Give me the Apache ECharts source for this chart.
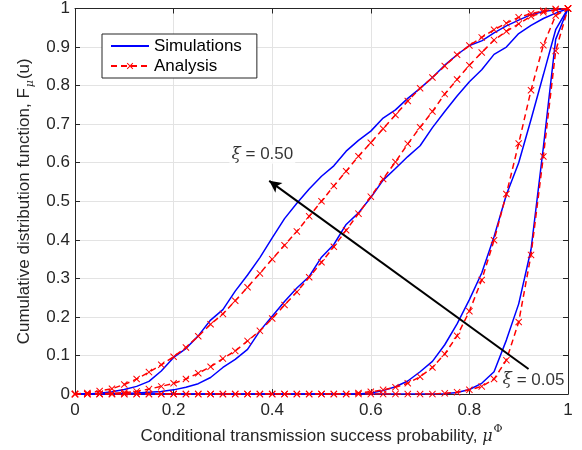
<!DOCTYPE html>
<html>
<head>
<meta charset="utf-8">
<script src="https://cdn.jsdelivr.net/npm/echarts@6/dist/echarts.min.js"></script>
<style>
html, body { margin: 0; padding: 0; background: #fff; }
#chart { width: 582px; height: 450px; }
</style>
</head>
<body>
<div id="chart"></div>
<script>
// x grid shared by every curve
var xs = [0, 0.025, 0.05, 0.075, 0.1, 0.125, 0.15, 0.175, 0.2, 0.225,
  0.25, 0.275, 0.3, 0.325, 0.35, 0.375, 0.4, 0.425, 0.45, 0.475,
  0.5, 0.525, 0.55, 0.575, 0.6, 0.625, 0.65, 0.675, 0.7, 0.725,
  0.75, 0.775, 0.8, 0.825, 0.85, 0.875, 0.9, 0.925, 0.95, 0.975, 1]

// xi = 0.50 family (left)
var simA = [0, 0, 0.002, 0.006, 0.012, 0.020, 0.033, 0.060, 0.095, 0.118,
  0.151, 0.192, 0.219, 0.267, 0.309, 0.354, 0.405, 0.455, 0.495, 0.532,
  0.565, 0.592, 0.630, 0.658, 0.682, 0.716, 0.737, 0.767, 0.793, 0.821,
  0.853, 0.880, 0.904, 0.916, 0.937, 0.955, 0.970, 0.984, 0.992, 0.997, 1]
var anaA = [0, 0.003, 0.008, 0.014, 0.025, 0.039, 0.057, 0.076, 0.097, 0.121,
  0.150, 0.181, 0.208, 0.242, 0.277, 0.313, 0.350, 0.386, 0.422, 0.461,
  0.500, 0.540, 0.578, 0.617, 0.652, 0.688, 0.724, 0.760, 0.793, 0.821,
  0.851, 0.880, 0.904, 0.925, 0.945, 0.962, 0.977, 0.987, 0.994, 0.999, 1]
var simB = [0, 0, 0, 0.001, 0.002, 0.003, 0.005, 0.007, 0.011, 0.018,
  0.027, 0.043, 0.069, 0.090, 0.116, 0.164, 0.202, 0.240, 0.275, 0.305,
  0.355, 0.388, 0.440, 0.470, 0.510, 0.555, 0.585, 0.616, 0.644, 0.691,
  0.733, 0.773, 0.810, 0.841, 0.881, 0.900, 0.935, 0.956, 0.974, 0.988, 1]
var anaB = [0, 0, 0.001, 0.002, 0.004, 0.007, 0.013, 0.020, 0.028, 0.039,
  0.054, 0.071, 0.092, 0.112, 0.138, 0.164, 0.196, 0.231, 0.265, 0.303,
  0.342, 0.382, 0.425, 0.468, 0.512, 0.558, 0.602, 0.649, 0.692, 0.733,
  0.778, 0.816, 0.853, 0.886, 0.918, 0.941, 0.960, 0.980, 0.990, 0.997, 1]

// xi = 0.05 family (right)
var simC = [0, 0, 0, 0, 0, 0, 0, 0, 0, 0,
  0, 0, 0, 0, 0, 0, 0, 0, 0, 0,
  0, 0, 0, 0, 0.003, 0.009, 0.019, 0.034, 0.058, 0.085,
  0.128, 0.182, 0.245, 0.314, 0.408, 0.517, 0.600, 0.712, 0.828, 0.945, 1]
var anaC = [0, 0, 0, 0, 0, 0, 0, 0, 0, 0,
  0, 0, 0, 0, 0, 0, 0, 0, 0, 0,
  0, 0, 0, 0.003, 0.006, 0.011, 0.018, 0.028, 0.045, 0.069,
  0.104, 0.151, 0.215, 0.296, 0.399, 0.519, 0.650, 0.788, 0.905, 0.982, 1]
var simD = [0, 0, 0, 0, 0, 0, 0, 0, 0, 0,
  0, 0, 0, 0, 0, 0, 0, 0, 0, 0,
  0, 0, 0, 0, 0, 0, 0, 0, 0, 0,
  0.001, 0.004, 0.012, 0.028, 0.058, 0.140, 0.234, 0.375, 0.640, 0.920, 1]
var anaD = [0, 0, 0, 0, 0, 0, 0, 0, 0, 0,
  0, 0, 0, 0, 0, 0, 0, 0, 0, 0,
  0, 0, 0, 0, 0, 0, 0, 0, 0, 0,
  0.002, 0.005, 0.011, 0.020, 0.039, 0.088, 0.187, 0.361, 0.616, 0.890, 1]

// arrow (tail, head) and the two labels, in data units
var arrowFrom = [0.92, 0.065]
var arrowTo = [0.394, 0.553]
var labelTop = [0.38, 0.622, '0.50']
var labelBottom = [0.93, 0.037, '0.05']

var xMark = 'path://M0,1L1,0L5,4L9,0L10,1L6,5L10,9L9,10L5,6L1,10L0,9L4,5Z'
var axisColor = '#262626'
var font = 'Liberation Sans, Arial, Helvetica, sans-serif'

function pairs (ys) {
  return xs.map(function (x, i) { return [x, ys[i]] })
}

function sim (ys) {
  return {
    name: 'Simulations',
    type: 'line',
    data: pairs(ys),
    symbol: 'none',
    lineStyle: { color: '#0000ff', width: 1.5 },
    // invisible item colour so the legend only shows the line
    itemStyle: { color: '#0000ff', opacity: 0 },
    animation: false,
    z: 2
  }
}

function ana (ys) {
  return {
    name: 'Analysis',
    type: 'line',
    data: pairs(ys),
    symbol: xMark,
    symbolSize: 7,
    showAllSymbol: true,
    lineStyle: { color: '#ff0000', width: 1.5, type: [6, 4] },
    itemStyle: { color: '#ff0000' },
    animation: false,
    z: 3
  }
}

function xiLabel (p) {
  return {
    type: 'scatter',
    data: [[p[0], p[1]]],
    symbolSize: 0,
    silent: true,
    animation: false,
    z: 10,
    label: {
      show: true,
      position: 'inside',
      formatter: '{g|ξ}{t| = ' + p[2] + '}',
      backgroundColor: '#fff',
      padding: [1, 2],
      rich: {
        g: { fontFamily: 'DejaVu Serif, serif', fontStyle: 'italic', fontSize: 17, color: '#000' },
        t: { fontFamily: font, fontSize: 17, color: '#000' }
      }
    }
  }
}

var chart = echarts.init(document.getElementById('chart'))

var baseAxis = {
  type: 'value',
  min: 0,
  max: 1,
  axisLine: { show: true, onZero: false, lineStyle: { color: axisColor, width: 1 } },
  axisTick: { show: true, inside: true, length: 5, lineStyle: { color: axisColor } },
  splitLine: { show: false }
}

var option = {
  backgroundColor: '#fff',
  animation: false,
  grid: { left: 75, right: 14, top: 8, bottom: 54 },
  legend: {
    data: ['Simulations', 'Analysis'],
    orient: 'vertical',
    left: 102,
    top: 34,
    itemWidth: 38,
    itemHeight: 8,
    itemGap: 2,
    padding: [3, 15, 3, 8],
    backgroundColor: '#fff',
    borderColor: axisColor,
    borderWidth: 1,
    borderRadius: 0,
    textStyle: { fontFamily: font, fontSize: 17, lineHeight: 18, color: '#000' }
  },
  xAxis: [
    Object.assign({}, baseAxis, {
      position: 'bottom',
      interval: 0.2,
      splitLine: { show: true, lineStyle: { color: '#e3e3e3', width: 1 } },
      axisLabel: { color: axisColor, fontFamily: font, fontSize: 17, margin: 8 },
      name: '{t|Conditional transmission success probability, }{m|μ}{p|Φ}',
      nameLocation: 'middle',
      nameGap: 29,
      nameTextStyle: {
        rich: {
          t: { fontFamily: font, fontSize: 17, color: axisColor },
          m: { fontFamily: 'DejaVu Serif, serif', fontStyle: 'italic', fontSize: 16, color: axisColor, padding: [2, 0, 0, 0] },
          p: { fontFamily: 'DejaVu Serif, serif', fontSize: 11, color: axisColor, verticalAlign: 'top', padding: [0, 0, 13, 1] }
        }
      }
    }),
    Object.assign({}, baseAxis, {
      position: 'top',
      interval: 0.2,
      axisLabel: { show: false }
    })
  ],
  yAxis: [
    Object.assign({}, baseAxis, {
      position: 'left',
      interval: 0.1,
      splitLine: { show: true, lineStyle: { color: '#e3e3e3', width: 1 } },
      axisLabel: { color: axisColor, fontFamily: font, fontSize: 17, margin: 5 },
      name: '{t|Cumulative distribution function, F}{s|μ}{t|(u)}',
      nameLocation: 'middle',
      nameRotate: 90,
      nameGap: 38,
      nameTextStyle: {
        rich: {
          t: { fontFamily: font, fontSize: 17, color: axisColor },
          s: { fontFamily: 'DejaVu Serif, serif', fontStyle: 'italic', fontSize: 11, color: axisColor, verticalAlign: 'bottom', padding: [11, 1, 0, 1] }
        }
      }
    }),
    Object.assign({}, baseAxis, {
      position: 'right',
      interval: 0.1,
      axisLabel: { show: false }
    })
  ],
  series: [
    sim(simA), ana(anaA),
    sim(simB), ana(anaB),
    sim(simC), ana(anaC),
    sim(simD), ana(anaD),
    {
      type: 'line',
      data: [],
      silent: true,
      animation: false,
      z: 5,
      markLine: {
        silent: true,
        animation: false,
        symbol: ['none', 'arrow'],
        symbolSize: [9, 12],
        label: { show: false },
        lineStyle: { color: '#000', width: 2, type: 'solid' },
        data: [[{ coord: arrowFrom }, { coord: arrowTo }]]
      }
    },
    xiLabel(labelTop),
    xiLabel(labelBottom)
  ]
}

chart.setOption(option)
window.onresize = chart.resize
</script>
</body>
</html>
